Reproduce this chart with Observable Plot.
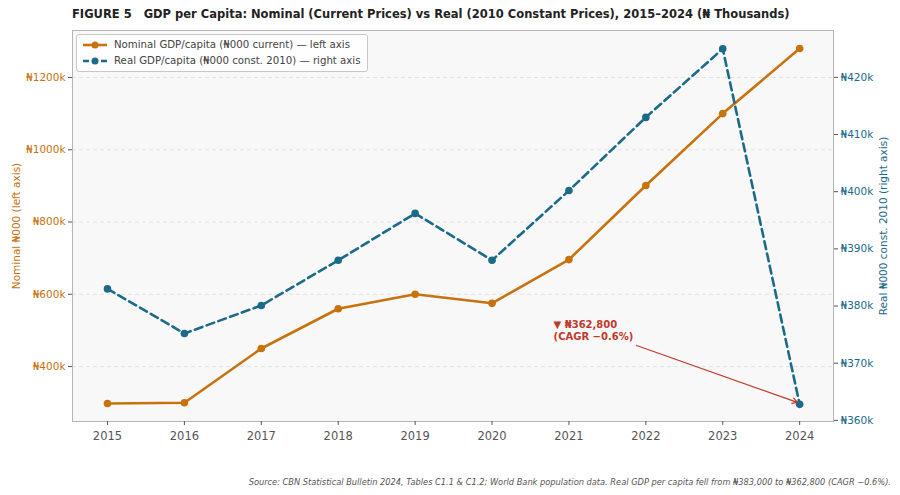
<!DOCTYPE html>
<html>
<head>
<meta charset="utf-8">
<script src="https://cdn.jsdelivr.net/npm/d3@7"></script>
<script src="https://cdn.jsdelivr.net/npm/@observablehq/plot@0.6"></script>
<style>
  html, body { margin: 0; padding: 0; background: #fff; }
  body { font-family: "DejaVu Sans", sans-serif; }
  #wrap { position: relative; width: 900px; height: 495px; overflow: hidden; }
  #wrap svg { position: absolute; left: 0; top: 0; }
  #title { position: absolute; left: 72px; top: 7px; font-weight: bold; font-size: 11.5px; color: #222; white-space: pre; }
  #legend { position: absolute; left: 76px; top: 34px; padding: 2px 6px 2px 5px; border: 1px solid #c8c8c8; border-radius: 3px; background: rgba(255,255,255,0.85); font-size: 10.2px; color: #444; line-height: 16px; }
  #legend .it { display: flex; align-items: center; }
  #legend svg { position: static; margin-right: 6px; }
  #source { position: absolute; right: 9px; top: 477px; font-size: 8.25px; font-style: italic; color: #555; white-space: pre; }
</style>
</head>
<body>
<div id="wrap">
  <div id="chart"></div>
  <div id="title">FIGURE 5   GDP per Capita: Nominal (Current Prices) vs Real (2010 Constant Prices), 2015–2024 (₦ Thousands)</div>
  <div id="legend"></div>
  <div id="source">Source: CBN Statistical Bulletin 2024, Tables C1.1 &amp; C1.2; World Bank population data. Real GDP per capita fell from ₦383,000 to ₦362,800 (CAGR −0.6%).</div>
</div>
<script>
// ---- data ----
const years = [2015, 2016, 2017, 2018, 2019, 2020, 2021, 2022, 2023, 2024];
const nominal = [298, 300, 450, 560, 600, 575, 696, 901, 1100, 1280]; // ₦000 current
const real = [383.0, 375.2, 380.1, 388.0, 396.2, 388.0, 400.2, 413.0, 425.0, 362.8]; // ₦000 const. 2010
const leftTicks = [400, 600, 800, 1000, 1200];
const rightTicks = [360, 370, 380, 390, 400, 410, 420];
const annotation = [{x: 2020.8, y: 377.7, text: "▼ ₦362,800\n(CAGR −0.6%)"}];
const annotationArrow = [{x1: 2021.88, y1: 373.1, x2: 2023.97, y2: 363.15}];

const ORANGE = "#c8720e";
const BLUE = "#1b6a8a";
const RED = "#c0392b";

const nomData = years.map((y, i) => ({year: y, v: nominal[i]}));
const realData = years.map((y, i) => ({year: y, v: real[i]}));

const common = {
  width: 900, height: 495,
  marginTop: 30, marginBottom: 74, marginLeft: 72, marginRight: 67,
  style: {fontFamily: "DejaVu Sans, sans-serif", background: "transparent", overflow: "visible"}
};

const left = Plot.plot({
  ...common,
  x: {domain: [2014.545, 2024.44]},
  y: {domain: [248, 1330]},
  marks: [
    Plot.frame({fill: "#f8f8f8", stroke: null}),
    Plot.gridY(leftTicks, {stroke: "#dddddd", strokeOpacity: 1, strokeDasharray: "4,3", strokeWidth: 0.8}),
    Plot.frame({stroke: "#b5b5b5", strokeWidth: 1}),
    Plot.axisX(years, {tickFormat: d => String(d), tickSize: 4, stroke: "#555", fill: "#555", fontSize: 11.5, tickPadding: 6, label: null}),
    Plot.axisY(leftTicks, {
      tickFormat: d => "₦" + d + "k", tickSize: 4, stroke: "#555", fill: ORANGE, fontSize: 10.5, tickPadding: 3,
      label: "Nominal ₦000 (left axis)", labelAnchor: "center", labelArrow: "none", labelOffset: 60, color: ORANGE
    }),
    Plot.line(nomData, {x: "year", y: "v", stroke: ORANGE, strokeWidth: 2.6}),
    Plot.dot(nomData, {x: "year", y: "v", fill: ORANGE, r: 3.8})
  ]
});

const right = Plot.plot({
  ...common,
  x: {domain: [2014.545, 2024.44], axis: null},
  y: {domain: [359.8, 428.2]},
  marks: [
    Plot.axisY(rightTicks, {
      anchor: "right",
      tickFormat: d => "₦" + d + "k", tickSize: 4, stroke: "#555", fill: BLUE, fontSize: 10.5, tickPadding: 3,
      label: "Real ₦000 const. 2010 (right axis)", labelAnchor: "center", labelArrow: "none", labelOffset: 53, color: BLUE
    }),
    Plot.line(realData, {x: "year", y: "v", stroke: BLUE, strokeWidth: 2.6, strokeDasharray: "8,4.5"}),
    Plot.dot(realData, {x: "year", y: "v", fill: BLUE, r: 3.8}),
    Plot.arrow(annotationArrow, {x1: "x1", y1: "y1", x2: "x2", y2: "y2", stroke: RED, strokeWidth: 1.2, headLength: 7, bend: 0}),
    Plot.text(annotation, {x: "x", y: "y", text: "text", fill: RED, fontWeight: "bold", fontSize: 10, textAnchor: "start", lineAnchor: "top", lineHeight: 1.2})
  ]
});

const chart = document.getElementById("chart");
chart.appendChild(left);
chart.appendChild(right);

// legend
const legend = document.getElementById("legend");
const items = [
  {label: "Nominal GDP/capita (₦000 current) — left axis", color: ORANGE, dash: null},
  {label: "Real GDP/capita (₦000 const. 2010) — right axis", color: BLUE, dash: "6,3"}
];
for (const it of items) {
  const row = document.createElement("div");
  row.className = "it";
  const ns = "http://www.w3.org/2000/svg";
  const s = document.createElementNS(ns, "svg");
  s.setAttribute("width", 26); s.setAttribute("height", 10);
  const l = document.createElementNS(ns, "line");
  l.setAttribute("x1", 1); l.setAttribute("x2", 25); l.setAttribute("y1", 5); l.setAttribute("y2", 5);
  l.setAttribute("stroke", it.color); l.setAttribute("stroke-width", 2.6);
  if (it.dash) l.setAttribute("stroke-dasharray", it.dash);
  const c = document.createElementNS(ns, "circle");
  c.setAttribute("cx", 13); c.setAttribute("cy", 5); c.setAttribute("r", 3.5); c.setAttribute("fill", it.color);
  s.appendChild(l); s.appendChild(c);
  row.appendChild(s);
  const t = document.createElement("span");
  t.textContent = it.label;
  row.appendChild(t);
  legend.appendChild(row);
}
</script>
</body>
</html>
